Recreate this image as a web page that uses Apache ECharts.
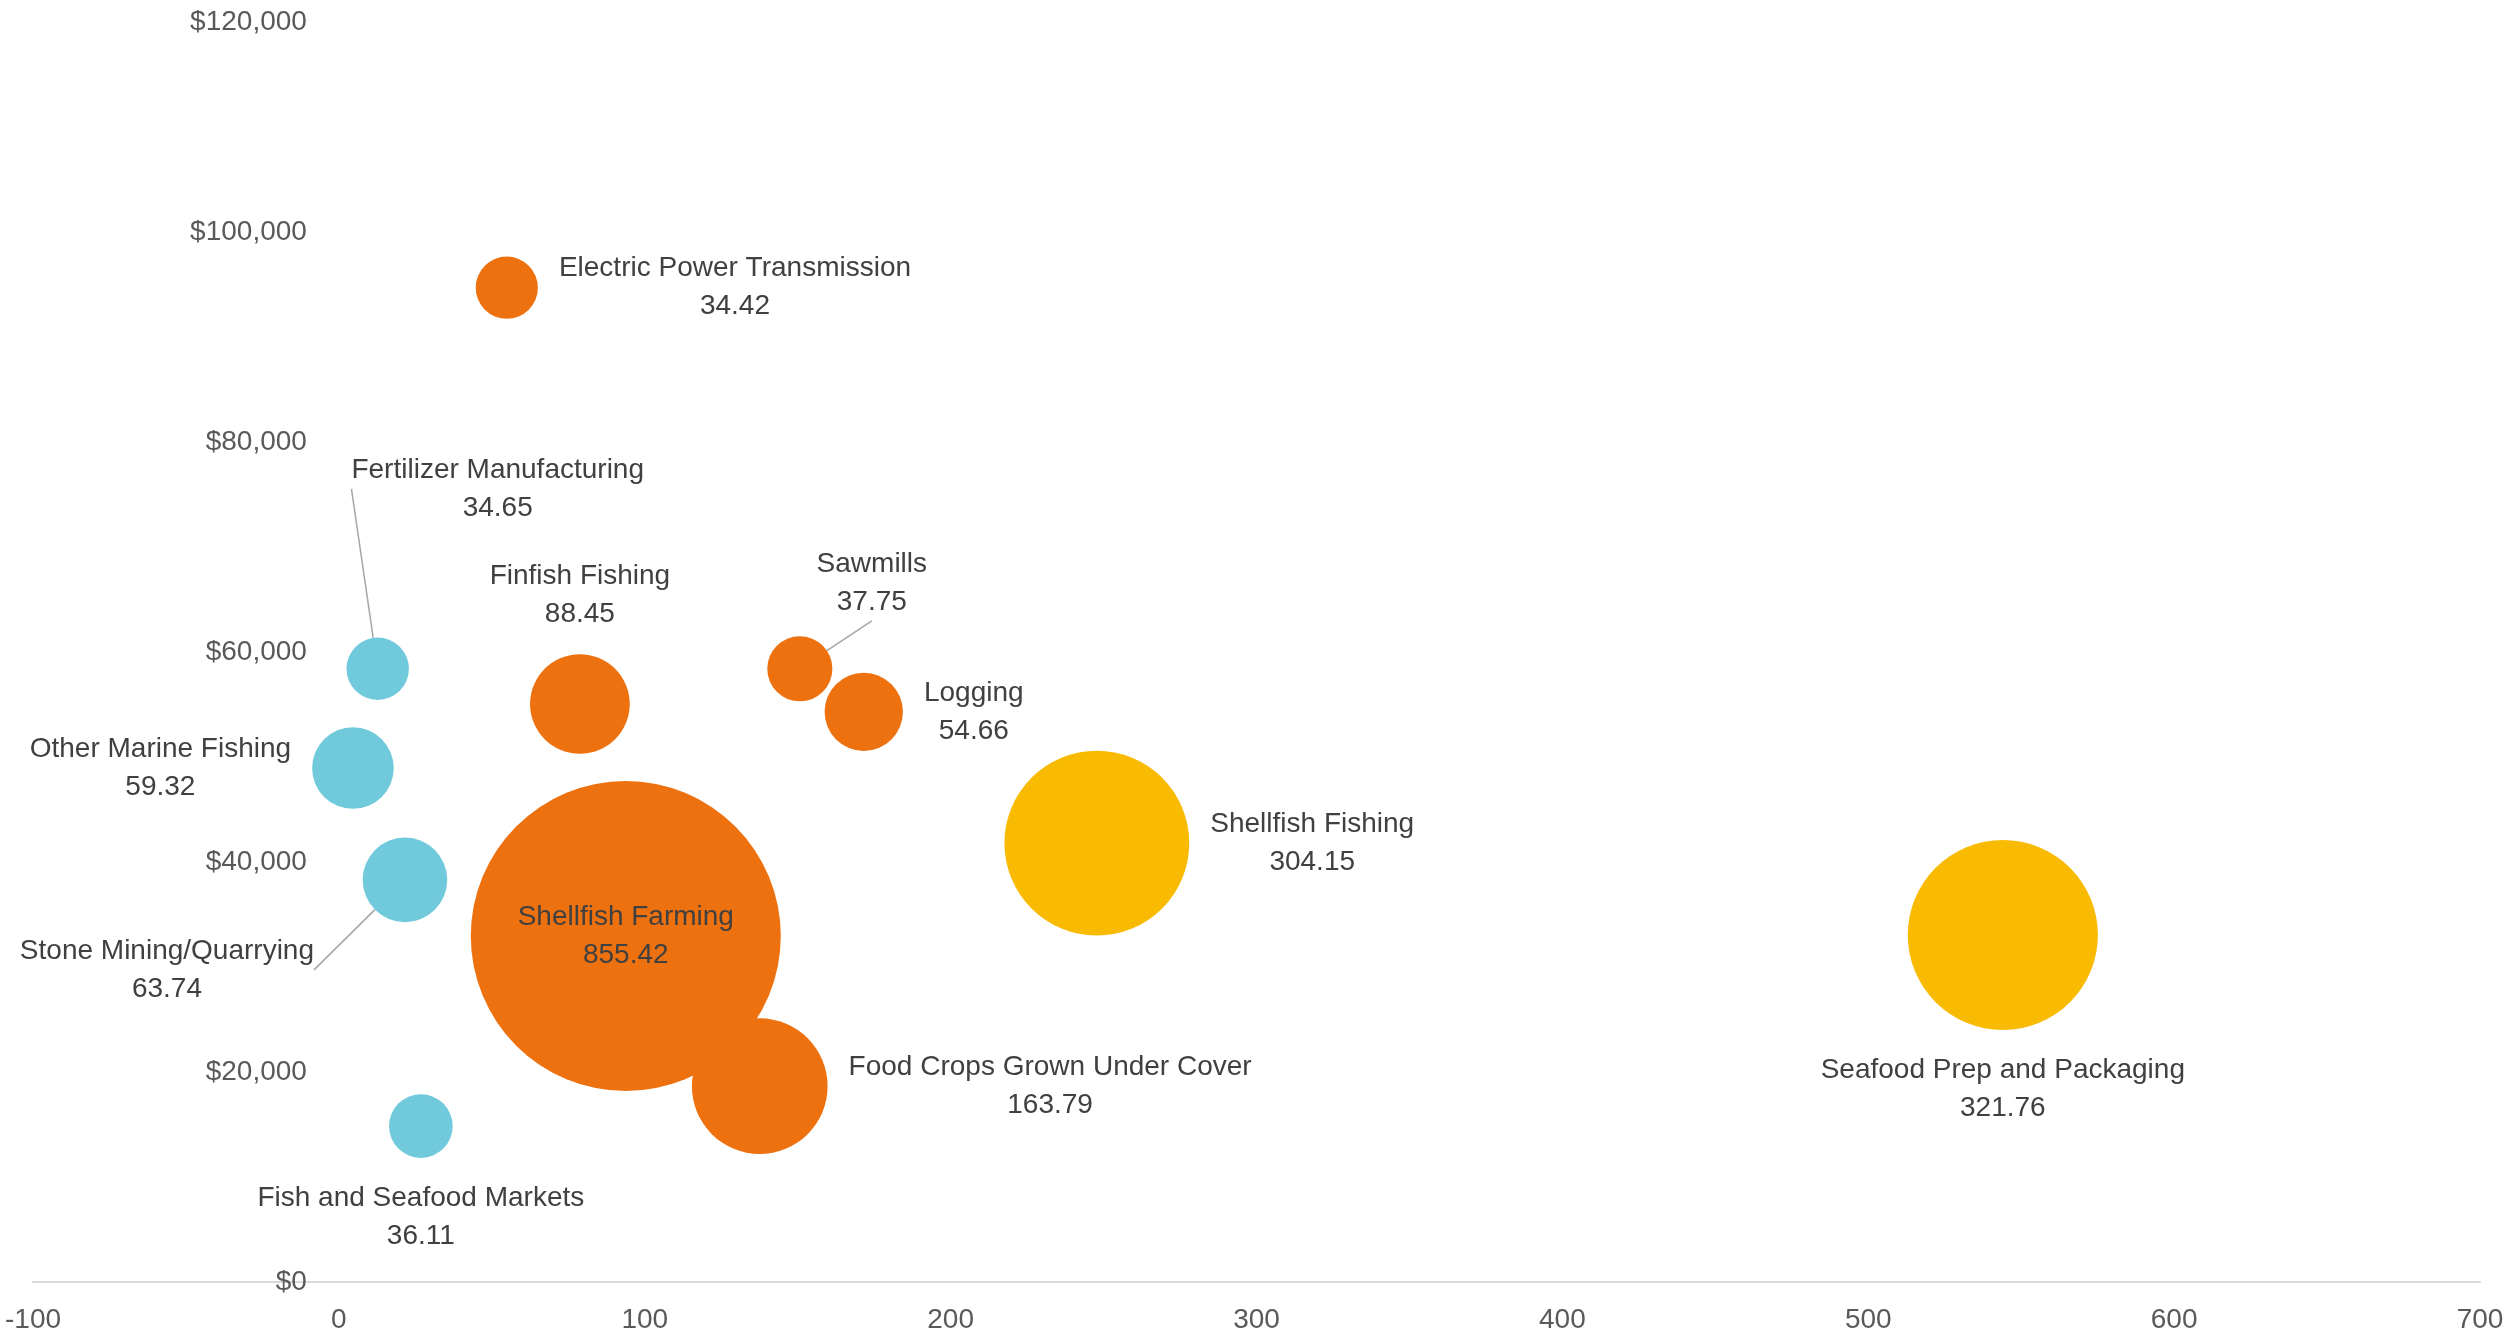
<!DOCTYPE html>
<html>
<head>
<meta charset="utf-8">
<script src="https://cdn.jsdelivr.net/npm/echarts@6/dist/echarts.min.js"></script>
<style>
  html, body { margin: 0; padding: 0; background: #fff; }
  #main { width: 2517px; height: 1340px; }
</style>
</head>
<body>
<div id="main"></div>
<script>
// industry bubbles (x = employment-ish, y = wage, size = bubble value)
var industries = ['Fertilizer Manufacturing', 'Other Marine Fishing', 'Stone Mining/Quarrying', 'Fish and Seafood Markets',
  'Electric Power Transmission', 'Finfish Fishing', 'Sawmills', 'Logging', 'Shellfish Farming', 'Food Crops Grown Under Cover',
  'Shellfish Fishing', 'Seafood Prep and Packaging'];
var xValues = [12.7, 4.6, 21.6, 26.8, 54.9, 78.8, 150.7, 171.6, 93.8, 137.6, 247.8, 544];
var yValues = [58400, 48950, 38300, 14850, 94700, 55050, 58400, 54300, 32950, 18650, 41800, 33050];
var bubbleSizes = [34.65, 59.32, 63.74, 36.11, 34.42, 88.45, 37.75, 54.66, 855.42, 163.79, 304.15, 321.76];
var groups = [0, 0, 0, 0, 1, 1, 1, 1, 1, 1, 2, 2];
var groupColors = ['#71CADC', '#EE7110', '#F9BA02'];

var labelSide = ['leader', 'left', 'leaderLeft', 'bottom', 'right', 'top', 'leader', 'right', 'inside', 'right', 'right', 'bottom'];
// label offsets for the ones that have a leader line
var leaderOffset = { 0: [120, -180], 2: [-238, 90], 6: [72, -86] };

var seriesData = [[], [], []];
for (var i = 0; i < industries.length; i++) {
  var item = { value: [xValues[i], yValues[i], bubbleSizes[i], i] };
  if (leaderOffset[i]) item.labelLine = { show: true };
  seriesData[groups[i]].push(item);
}

var chart = echarts.init(document.getElementById('main'));
var FONT = 'Liberation Sans';
var gap = 21;

function layoutLabel(p) {
  var idx = seriesData[p.seriesIndex][p.dataIndex].value[3];
  var side = labelSide[idx];
  var r = p.rect.width / 2, lw = p.labelRect.width / 2, lh = p.labelRect.height / 2;
  var cx = p.rect.x + r, cy = p.rect.y + p.rect.height / 2;
  if (side === 'right') return { dx: r + gap + lw, dy: 0 };
  if (side === 'left') return { dx: -(r + gap + lw), dy: 0 };
  if (side === 'top') return { dx: 0, dy: -(r + gap + lh) };
  if (side === 'bottom') return { dx: 0, dy: r + gap + lh };
  if (leaderOffset[idx]) {
    var dx = leaderOffset[idx][0], dy = leaderOffset[idx][1];
    var lx = p.labelRect.x + lw + dx, ly = p.labelRect.y + lh + dy;
    var pts;
    if (side === 'leaderLeft') {
      var edge = lx + lw + 8;
      pts = [[cx, cy], [edge + 12, ly], [edge, ly]];
    } else {
      pts = [[cx, cy], [lx, ly + lh + 4], [lx, ly + lh + 4]];
    }
    return { dx: dx, dy: dy, labelLinePoints: pts };
  }
  return { dx: 0, dy: 0 };
}

var series = [0, 1, 2].map(function (g) {
  return {
    type: 'scatter',
    data: seriesData[g],
    symbolSize: function (v) { return 10.6 * Math.sqrt(v[2]); },
    itemStyle: { color: groupColors[g], opacity: 1 },
    label: {
      show: true,
      position: 'inside',
      formatter: function (p) {
        return industries[p.value[3]] + '\n' + bubbleSizes[p.value[3]].toFixed(2);
      },
      color: '#404040',
      fontFamily: FONT,
      fontSize: 28,
      lineHeight: 38,
      align: 'center'
    },
    labelLine: {
      show: false,
      smooth: false,
      lineStyle: { color: '#A6A6A6', width: 1.5 }
    },
    labelLayout: layoutLabel,
    emphasis: { disabled: true }
  };
});

var gridLeft = 33;
var yAxisOpt = {
  type: 'value',
  min: 0,
  max: 120000,
  interval: 20000,
  offset: 0,
  axisLine: { show: false },
  axisTick: { show: false },
  splitLine: { show: false },
  axisLabel: {
    color: '#595959', fontFamily: FONT, fontSize: 28, margin: 32,
    formatter: function (v) { return '$' + v.toLocaleString('en-US'); }
  }
};

chart.setOption({
  animation: false,
  backgroundColor: '#fff',
  grid: { left: gridLeft, right: 37, top: 22, bottom: 58, containLabel: false, outerBoundsMode: 'none' },
  xAxis: {
    type: 'value',
    min: -100,
    max: 700,
    interval: 100,
    axisLine: { show: true, onZero: false, lineStyle: { color: '#D9D9D9', width: 2 } },
    axisTick: { show: false },
    splitLine: { show: false },
    axisLabel: { color: '#595959', fontFamily: FONT, fontSize: 28, margin: 24 }
  },
  yAxis: yAxisOpt,
  series: series
});

// put the value axis where x = 0 (like Excel's crossing)
var zeroX = chart.convertToPixel({ xAxisIndex: 0 }, 0);
chart.setOption({ yAxis: { offset: gridLeft - zeroX } });
// second layout pass so the custom leader line points stick
chart.resize();
</script>
</body>
</html>
